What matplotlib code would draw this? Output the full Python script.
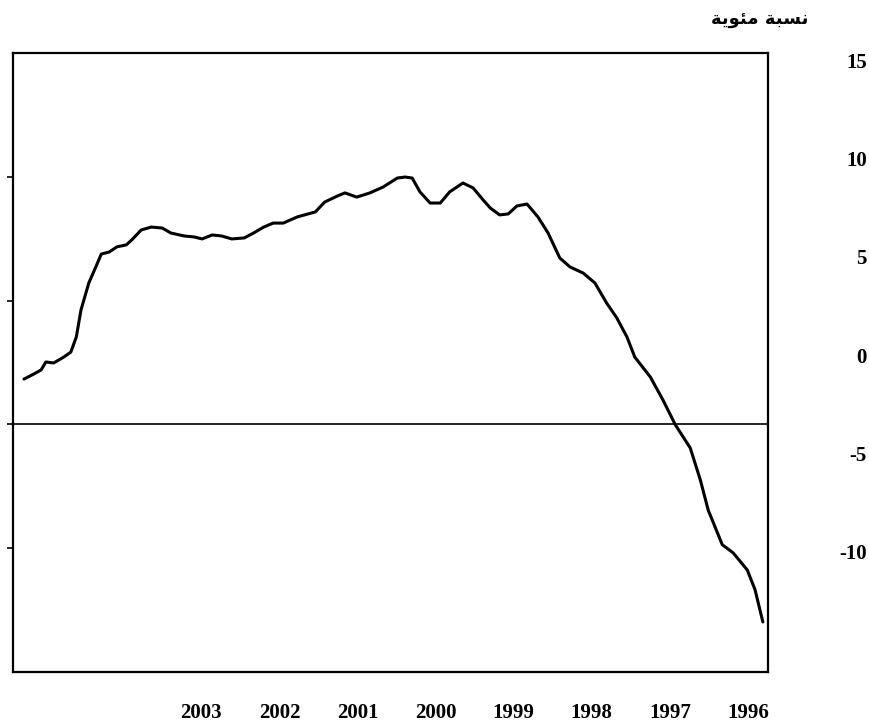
import numpy as np
import matplotlib
matplotlib.use("Agg")
import matplotlib.pyplot as plt

# =============================================================================
# Data (x in years, axis runs right-to-left)
# =============================================================================
t = [2005.27, 2005.14, 2005.05, 2004.99, 2004.89, 2004.76, 2004.67, 2004.60,
     2004.54, 2004.44, 2004.35, 2004.28, 2004.18, 2004.08, 2003.96, 2003.89,
     2003.77, 2003.64, 2003.50, 2003.39, 2003.22, 2003.09, 2002.99, 2002.86,
     2002.74, 2002.61, 2002.45, 2002.33, 2002.20, 2002.08, 2001.95, 2001.77,
     2001.54, 2001.42, 2001.26, 2001.16, 2001.01, 2000.84, 2000.67, 2000.49,
     2000.39, 2000.30, 2000.20, 2000.07, 1999.94, 1999.82, 1999.65, 1999.52,
     1999.39, 1999.30, 1999.18, 1999.07, 1998.96, 1998.83, 1998.69, 1998.56,
     1998.41, 1998.28, 1998.11, 1997.96, 1997.81, 1997.68, 1997.55, 1997.45,
     1997.25, 1997.09, 1996.93, 1996.74, 1996.61, 1996.51, 1996.33, 1996.19,
     1996.01, 1995.91, 1995.81]
pct = [1.83, 2.04, 2.20, 2.52, 2.48, 2.72, 2.92, 3.53,
       4.62, 5.71, 6.36, 6.88, 6.96, 7.17, 7.25, 7.45,
       7.85, 7.97, 7.93, 7.73, 7.61, 7.57, 7.49, 7.65,
       7.61, 7.49, 7.53, 7.73, 7.97, 8.13, 8.13, 8.38,
       8.58, 8.98, 9.22, 9.35, 9.18, 9.35, 9.59, 9.95,
       9.99, 9.95, 9.39, 8.94, 8.94, 9.39, 9.75, 9.55,
       9.06, 8.74, 8.46, 8.50, 8.82, 8.90, 8.38, 7.73,
       6.72, 6.36, 6.11, 5.71, 4.90, 4.30, 3.53, 2.72,
       1.91, 0.99, -0.02, -0.95, -2.25, -3.46, -4.86, -5.19,
       -5.88, -6.68, -7.98]

years = [1996, 1997, 1998, 1999, 2000, 2001, 2002, 2003]
ylabels = [15, 10, 5, 0, -5, -10]
ytick_marks = [-5, 0, 5, 10]
unit_label = "\ufe94\ufef3\ufeee\ufe8c\ufee3 \ufe94\ufe92\ufeb4\ufee7"  # نسبة مئوية

# =============================================================================
# Plot
# =============================================================================
fig = plt.figure(figsize=(8.69, 7.22), dpi=100)
ax = fig.add_axes([0.015, 0.0693, 0.8688, 0.8573])

ax.plot(t, pct, color='black', lw=2.2, solid_joinstyle='round',
        solid_capstyle='round')
ax.axhline(0, color='black', lw=1.2)

ax.set_xlim(2005.41, 1995.744)
ax.set_ylim(-10, 15)

for s in ax.spines.values():
    s.set_linewidth(1.6)

serif = dict(family='Liberation Serif', weight='bold', size=15)

ax.set_xticks(years)
ax.set_xticklabels([str(y) for y in years], **serif)
ax.tick_params(axis='x', length=0, pad=22)

ax.yaxis.tick_right()
ax.set_yticks(ytick_marks)
ax.set_yticklabels([])
ax.tick_params(axis='y', direction='out', length=4, width=1.2)

# value labels on the right (placed as printed, offset from the tick marks)
ax2 = ax.twinx()
ax2.set_ylim(-16.10, 15.36)
ax2.set_yticks(ylabels)
ax2.set_yticklabels([str(v) for v in ylabels], **serif)
for lab in ax2.get_yticklabels():
    lab.set_horizontalalignment('right')
ax2.tick_params(axis='y', length=0, pad=71)
for s in ax2.spines.values():
    s.set_visible(False)

fig.text(0.93, 0.972, unit_label, family='DejaVu Sans', weight='bold',
         fontsize=13, ha='right', va='center')

fig.savefig('out.png', dpi=100)
